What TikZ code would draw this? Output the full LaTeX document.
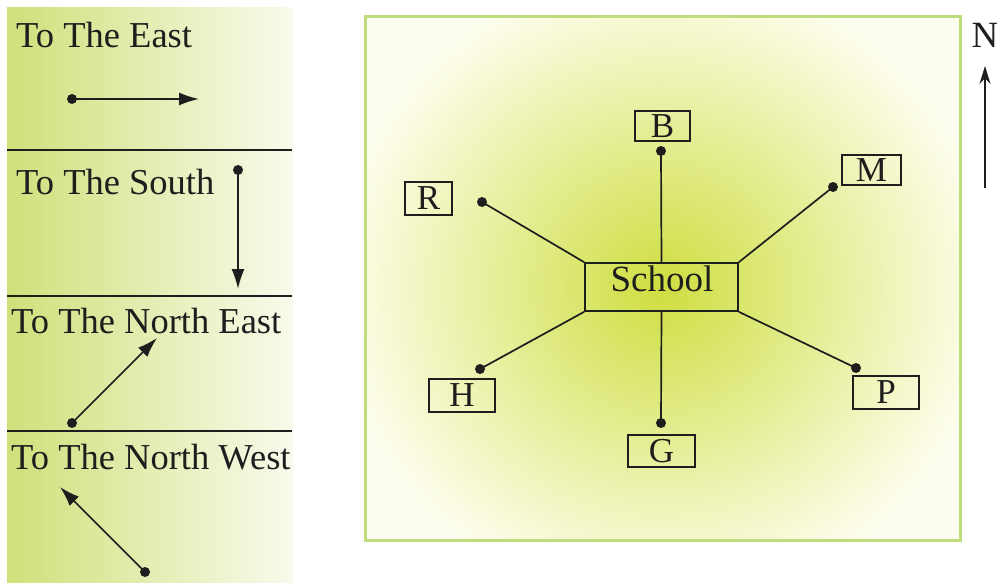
\documentclass[tikz,border=0pt]{standalone}
\usepackage{fontspec}
\setmainfont{Liberation Serif}
\usetikzlibrary{arrows.meta}
\definecolor{lgreen}{RGB}{208,224,122}
\definecolor{lwhite}{RGB}{249,250,236}
\definecolor{cgreen}{RGB}{206,222,64}
\definecolor{cwhite}{RGB}{254,254,240}
\definecolor{bgreen}{RGB}{190,222,125}
\definecolor{ink}{RGB}{30,30,30}
\tikzset{
  lbl/.style={font=\fontsize{36.5}{40}\selectfont, text=ink, anchor=base west, inner sep=0pt},
  dirarrow/.style={draw=ink, line width=1.7pt, -{Latex[length=20pt,width=13pt]}},
  divider/.style={draw=ink, line width=1.6pt},
  dotpt/.style={circle, fill=ink, inner sep=0pt, minimum size=10pt},
  place/.style={draw=ink, line width=1.6pt, fill=none, inner sep=0pt, font=\fontsize{35}{38}\selectfont, text=ink},
  link/.style={draw=ink, line width=1.7pt}
}
\begin{document}
\begin{tikzpicture}[x=1pt,y=-1pt]
\useasboundingbox (0,0) rectangle (997,583);
\fill[white] (0,0) rectangle (997,583);
% left panel
\shade[left color=lgreen, right color=lwhite] (7,8) rectangle (293,583);
\draw[divider] (7,150) -- (292,150);
\draw[divider] (7,296) -- (292,296);
\draw[divider] (7,431) -- (292,431);
\node[lbl] (te) at (16,48) {To The East};
\node[lbl] (ts) at (16,195) {To The South};
\node[lbl] (tne) at (11,333) {To The North East};
\node[lbl] (tnw) at (11,469) {To The North West};
\node[dotpt] (e1) at (72,99) {};
\coordinate (e2) at (199,99);
\draw[dirarrow] (e1.center) -- (e2);
\node[dotpt] (s1) at (238,170) {};
\coordinate (s2) at (238,289);
\draw[dirarrow] (s1.center) -- (s2);
\node[dotpt] (ne1) at (72,423) {};
\coordinate (ne2) at (157,338);
\draw[dirarrow] (ne1.center) -- (ne2);
\node[dotpt] (nw1) at (145,572) {};
\coordinate (nw2) at (60,487);
\draw[dirarrow] (nw1.center) -- (nw2);
% right panel
\begin{scope}
\clip (365,17) rectangle (960,540);
\fill[cwhite] (365,17) rectangle (960,540);
\shade[inner color=cgreen, outer color=cwhite] (662,287) ellipse (330 and 320);
\end{scope}
\draw[bgreen, line width=3pt] (365,17) rectangle (960,540);
% school
\node[place, minimum width=153pt, minimum height=48pt] (school) at (661.5,287) {};
\node[font=\fontsize{37}{40}\selectfont, text=ink, inner sep=0pt] (schooltxt) at (662,279) {School};
\node[place, minimum width=55pt, minimum height=30pt] (B) at (662.5,126) {B};
\node[place, minimum width=59pt, minimum height=30pt] (M) at (871.5,170) {M};
\node[place, minimum width=47pt, minimum height=33pt] (R) at (428.5,198.5) {R};
\node[place, minimum width=66pt, minimum height=33pt] (H) at (462,395.5) {H};
\node[place, minimum width=67pt, minimum height=32pt] (G) at (661.5,451) {G};
\node[place, minimum width=66pt, minimum height=33pt] (P) at (886,392.5) {P};
\node[dotpt] (dB) at (661,151) {};
\node[dotpt] (dM) at (833,187) {};
\node[dotpt] (dR) at (482,202) {};
\node[dotpt] (dH) at (480,369) {};
\node[dotpt] (dG) at (661,423) {};
\node[dotpt] (dP) at (856,368) {};
\draw[link] (dB.center) -- (school.north);
\draw[link] (dM.center) -- (school.north east);
\draw[link] (dR.center) -- (school.north west);
\draw[link] (dH.center) -- (school.south west);
\draw[link] (dG.center) -- (school.south);
\draw[link] (dP.center) -- (school.south east);
% north
\node[font=\fontsize{37}{40}\selectfont, text=ink, inner sep=0pt] (N) at (985,35) {N};
\coordinate (n1) at (985,188);
\coordinate (n2) at (985,66);
\draw[draw=ink, line width=1.5pt, -{Stealth[length=18pt,width=11pt]}] (n1) -- (n2);
\end{tikzpicture}
\end{document}
